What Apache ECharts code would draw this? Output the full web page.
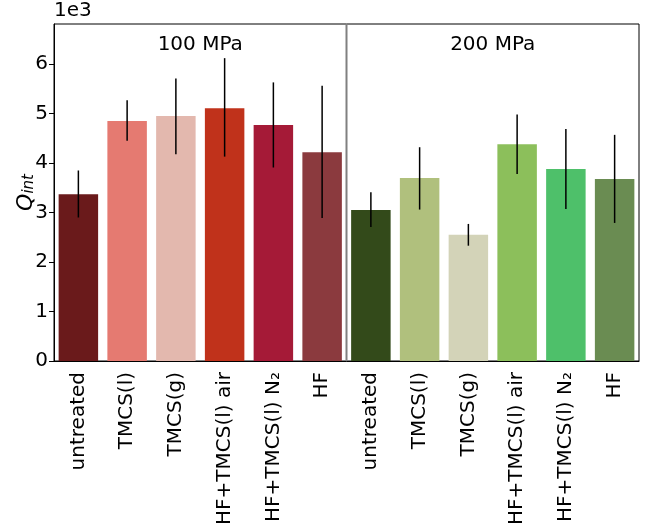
<!DOCTYPE html>
<html><head><meta charset="utf-8">
<script src="https://cdn.jsdelivr.net/npm/echarts@6/dist/echarts.min.js"></script>
<style>html,body{margin:0;padding:0;background:#fff}#c{width:649px;height:531px}</style>
</head><body><div id="c"></div>
<script>
var categories = ['untreated','TMCS(l)','TMCS(g)','HF+TMCS(l) air','HF+TMCS(l) N\u2082','HF',
                  'untreated','TMCS(l)','TMCS(g)','HF+TMCS(l) air','HF+TMCS(l) N\u2082','HF'];
var values  = [3.37, 4.85, 4.95, 5.11, 4.77, 4.22, 3.05, 3.70, 2.55, 4.38, 3.88, 3.68];
var errLow  = [2.90, 4.45, 4.18, 4.13, 3.91, 2.89, 2.71, 3.06, 2.33, 3.78, 3.07, 2.79];
var errHigh = [3.85, 5.27, 5.71, 6.12, 5.63, 5.56, 3.41, 4.32, 2.77, 4.98, 4.69, 4.57];
var colors  = ['#6a1a1b','#e57a71','#e3b8ae','#c0321b','#a51a37','#8b3a3e',
               '#334a1a','#b0c07d','#d3d3b8','#8cbf5b','#4ec06a','#6a8c52'];
var groupLabels = ['100 MPa','200 MPa'];
var groupSize = 6;
var yTicks = [0,1,2,3,4,5,6];

var chart = echarts.init(document.getElementById('c'));
var font = 'DejaVu Sans';
chart.setOption({
  animation: false,
  grid: {left: 54, right: 10, top: 24, bottom: 170, containLabel: false, outerBoundsMode: 'none',
         show: true, borderColor: '#000', borderWidth: 1, backgroundColor: 'transparent'},
  xAxis: {
    type: 'category', data: categories,
    axisLine: {lineStyle: {color: '#000', width: 1}},
    axisTick: {alignWithLabel: true, length: 5, lineStyle: {color: '#000'}},
    axisLabel: {rotate: 90, fontSize: 20, color: '#000', fontFamily: font, margin: 11, interval: 0},
    splitLine: {show: false}
  },
  yAxis: {
    type: 'value', min: 0, max: 6.81, interval: 1,
    name: '{q|Q}{s|int}', nameLocation: 'middle', nameRotate: 90, nameGap: 17, nameMoveOverlap: false,
    nameTextStyle: {rich: {
      q: {fontSize: 22, fontStyle: 'italic', fontFamily: font, color: '#000', verticalAlign: 'bottom'},
      s: {fontSize: 15, fontStyle: 'italic', fontFamily: font, color: '#000', verticalAlign: 'bottom', padding: [8,0,0,0]}
    }},
    axisLine: {show: true, lineStyle: {color: '#000', width: 1}},
    axisTick: {show: true, length: 5, lineStyle: {color: '#000'}, customValues: yTicks},
    axisLabel: {fontSize: 20, color: '#000', fontFamily: font, margin: 6, customValues: yTicks},
    splitLine: {show: false}
  },
  series: [{
    type: 'bar', barWidth: '81%',
    data: values.map(function(v, i){ return {value: v, itemStyle: {color: colors[i]}}; })
  }, {
    type: 'custom',
    data: errLow.map(function(l, i){ return [i, l, errHigh[i]]; }),
    renderItem: function(params, api){
      var a = api.coord([api.value(0), api.value(1)]);
      var b = api.coord([api.value(0), api.value(2)]);
      return {type: 'line', shape: {x1: a[0], y1: a[1], x2: b[0], y2: b[1]},
              style: {stroke: '#000', lineWidth: 1.5}};
    },
    z: 10
  }, {
    type: 'custom',
    data: [[groupSize - 1, 0]],
    renderItem: function(params, api){
      var c = api.coord([api.value(0), 0]);
      var half = api.size([1, 0])[0] / 2;
      var cs = params.coordSys;
      var x = c[0] + half;
      return {type: 'line', shape: {x1: x, y1: cs.y, x2: x, y2: cs.y + cs.height},
              style: {stroke: '#808080', lineWidth: 2}};
    },
    z: 5
  }]
});
var p1 = chart.convertToPixel({xAxisIndex: 0}, 2);
var p2 = chart.convertToPixel({xAxisIndex: 0}, 3);
var p3 = chart.convertToPixel({xAxisIndex: 0}, 8);
var p4 = chart.convertToPixel({xAxisIndex: 0}, 9);
chart.setOption({graphic: [
  {type: 'text', left: 54, top: 1, style: {text: '1e3', fontSize: 20, fontFamily: font, fill: '#000'}},
  {type: 'text', x: (p1+p2)/2, y: 45, style: {text: groupLabels[0], fontSize: 20, fontFamily: font, fill: '#000', align: 'center', verticalAlign: 'middle'}},
  {type: 'text', x: (p3+p4)/2, y: 45, style: {text: groupLabels[1], fontSize: 20, fontFamily: font, fill: '#000', align: 'center', verticalAlign: 'middle'}}
]});
</script></body></html>
